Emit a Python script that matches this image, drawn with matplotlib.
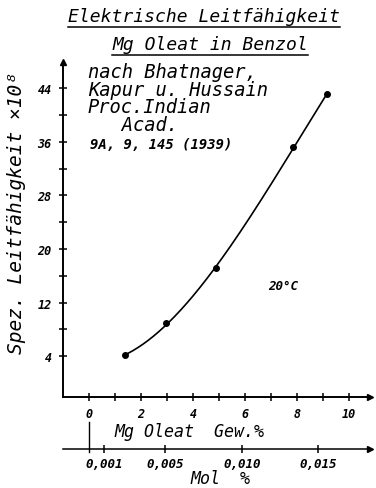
import numpy as np
import matplotlib
matplotlib.use("Agg")
import matplotlib.pyplot as plt
from matplotlib.lines import Line2D
from matplotlib.ticker import FixedLocator

# Messwerte (Gew.% Mg-Oleat, spez. Leitfaehigkeit x 10^8)
gew = [1.38, 2.96, 4.88, 7.85, 9.15]
leit = [4.1, 8.9, 17.1, 35.2, 43.1]

y_major = [4, 12, 20, 28, 36, 44]
y_minor = [8, 16, 24, 32, 40]
x_major = [0, 2, 4, 6, 8, 10]
x_minor = [1, 3, 5, 7, 9]
mol_ticks = [0.001, 0.005, 0.010, 0.015]
mol_labels = ["0,001", "0,005", "0,010", "0,015"]
mol_gewicht = 587.0  # Umrechnung Gew.% -> Mol %

quelle = ["nach Bhatnager,", "Kapur u. Hussain", "Proc.Indian", "   Acad."]
quelle_zitat = "9A, 9, 145 (1939)"

FONT = "DejaVu Sans Mono"
W, H = 376, 489


def fx(px):
    return px / W


def fy(py):
    return 1 - py / H


fig = plt.figure(figsize=(W / 100, H / 100), dpi=100)
ax = fig.add_axes([fx(63), 91 / H, 307 / W, 335 / H])
ax.set_xlim(-1.0, 10.8)
ax.set_ylim(-2.1, 47.9)

for s in ["top", "right"]:
    ax.spines[s].set_visible(False)
for s in ["left", "bottom"]:
    ax.spines[s].set_linewidth(1.4)

# Pfeile an den Achsenenden
ax.plot(1, 0, ">k", ms=5, transform=ax.transAxes, clip_on=False)
ax.plot(0, 1, "^k", ms=5, transform=ax.transAxes, clip_on=False)

ax.yaxis.set_major_locator(FixedLocator(y_major))
ax.yaxis.set_minor_locator(FixedLocator(y_minor))
ax.xaxis.set_major_locator(FixedLocator(x_major))
ax.xaxis.set_minor_locator(FixedLocator(x_minor))
ax.set_yticklabels([str(v) for v in y_major])
ax.set_xticklabels([str(v) for v in x_major])
ax.tick_params(which="both", direction="inout", length=6, width=1.1)
ax.tick_params(axis="y", pad=5)
ax.tick_params(axis="x", pad=4)
for lab in ax.get_xticklabels() + ax.get_yticklabels():
    lab.set_fontfamily(FONT)
    lab.set_fontstyle("italic")
    lab.set_fontweight("bold")
    lab.set_fontsize(8.5)

# zweite Skala in Mol %
sec = ax.secondary_xaxis(-0.155, functions=(lambda g: g / mol_gewicht,
                                             lambda m: m * mol_gewicht))
sec.set_xticks(mol_ticks)
sec.set_xticklabels(mol_labels)
sec.spines["bottom"].set_linewidth(1.1)
sec.tick_params(direction="inout", length=6, width=1.1, pad=3)
for lab in sec.get_xticklabels():
    lab.set_fontfamily(FONT)
    lab.set_fontstyle("italic")
    lab.set_fontweight("bold")
    lab.set_fontsize(9)
ax.plot(1, -0.155, ">k", ms=5, transform=ax.transAxes, clip_on=False)
ax.plot([0, 0], [-0.075, -0.165], color="k", lw=1.0,
        transform=ax.get_xaxis_transform(), clip_on=False)

# Kurve
koef = np.polyfit(gew, leit, 3)
xs = np.linspace(gew[0], gew[-1], 200)
ax.plot(xs, np.polyval(koef, xs), color="k", lw=1.2)
ax.plot(gew, leit, "o", color="k", ms=4)

# Beschriftung
txt = dict(family=FONT, style="italic", color="k")
t1 = fig.text(fx(204), fy(17), "Elektrische Leitfähigkeit", ha="center",
              va="center", fontsize=13, **txt)
t2 = fig.text(fx(210), fy(45), "Mg Oleat in Benzol", ha="center",
              va="center", fontsize=13, **txt)

fig.text(fx(88), fy(99), "\n".join(quelle), ha="left", va="center",
         fontsize=13.5, linespacing=0.9, **txt)
fig.text(fx(90), fy(145), quelle_zitat, ha="left", va="center",
         fontsize=10, fontweight="bold", **txt)
fig.text(fx(283), fy(287), "20°C", ha="center", va="center", fontsize=9,
         fontweight="bold", **txt)

fig.text(fx(17), fy(213), "Spez. Leitfähigkeit ×10⁸", rotation=90,
         ha="center", va="center", fontsize=14, **txt)
fig.text(fx(189), fy(432), "Mg Oleat  Gew.%", ha="center", va="center",
         fontsize=12, **txt)
fig.text(fx(220), fy(479), "Mol  %", ha="center", va="center",
         fontsize=12, **txt)

# Unterstreichung der Ueberschrift
fig.canvas.draw()
r = fig.canvas.get_renderer()
for t in (t1, t2):
    bb = t.get_window_extent(r)
    fig.add_artist(Line2D([bb.x0 / W, bb.x1 / W],
                          [(bb.y0 - 2) / H, (bb.y0 - 2) / H],
                          color="k", lw=1.1))

fig.savefig("out.png", dpi=100)
